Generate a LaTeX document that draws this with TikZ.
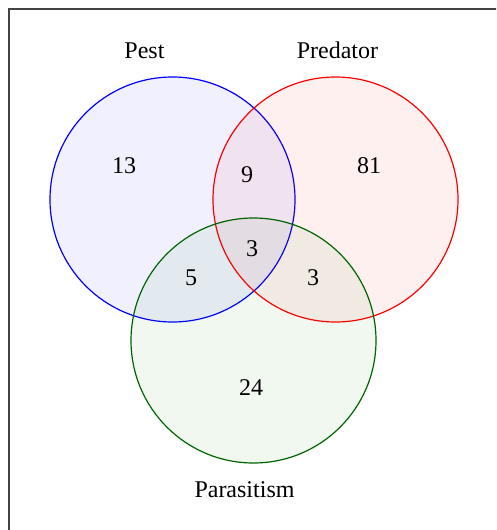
\documentclass[tikz,border=0pt]{standalone}
\usepackage{fontspec}
\setmainfont{Liberation Serif}
\usepackage{tikz}
\usetikzlibrary{positioning}
\usetikzlibrary{shapes}
\definecolor{framegray}{HTML}{444444}
\definecolor{parasitegreen}{HTML}{006400}
\tikzstyle{setcircle}=[circle,minimum size=245pt,inner sep=0pt,line width=1.2pt,fill opacity=0.06]
\tikzstyle{setname} = [anchor=base,font=\fontsize{24}{28}\selectfont]
\tikzstyle{count} = [anchor=base,font=\fontsize{24}{28}\selectfont]

\begin{document}
\begin{tikzpicture}[x=1pt,y=-1pt]

  \path[use as bounding box, clip] (0,0) rectangle (496,530);
  \draw[framegray, line width=2pt] (8.5,9) rectangle (540,570);

   \foreach \x/\y/\name/\col/\edge in {172.5/199.5/pest/blue/blue, 335.5/199.5/predator/red/red, 253.5/340.5/parasitism/green!50!black/parasitegreen}
          \node[setcircle,draw=\edge, fill=\col] (\name) at (\x, \y) {};

   \foreach \x/\y/\name/\label in {144.5/58/pestname/Pest, 337.5/58/predname/Predator, 244.5/497.5/paraname/Parasitism}
          \node[setname] (\name) at (\x, \y) {\label};

   \foreach \x/\y/\name/\label in {124/173.7/onlypest/13, 369/173.7/onlypred/81, 247/182.7/pestpred/9, 252/256.7/all/3, 191/285/pestpara/5, 313/285/predpara/3, 251/395/onlypara/24}
          \node[count] (\name) at (\x, \y) {\label};

\end{tikzpicture}
\end{document}
